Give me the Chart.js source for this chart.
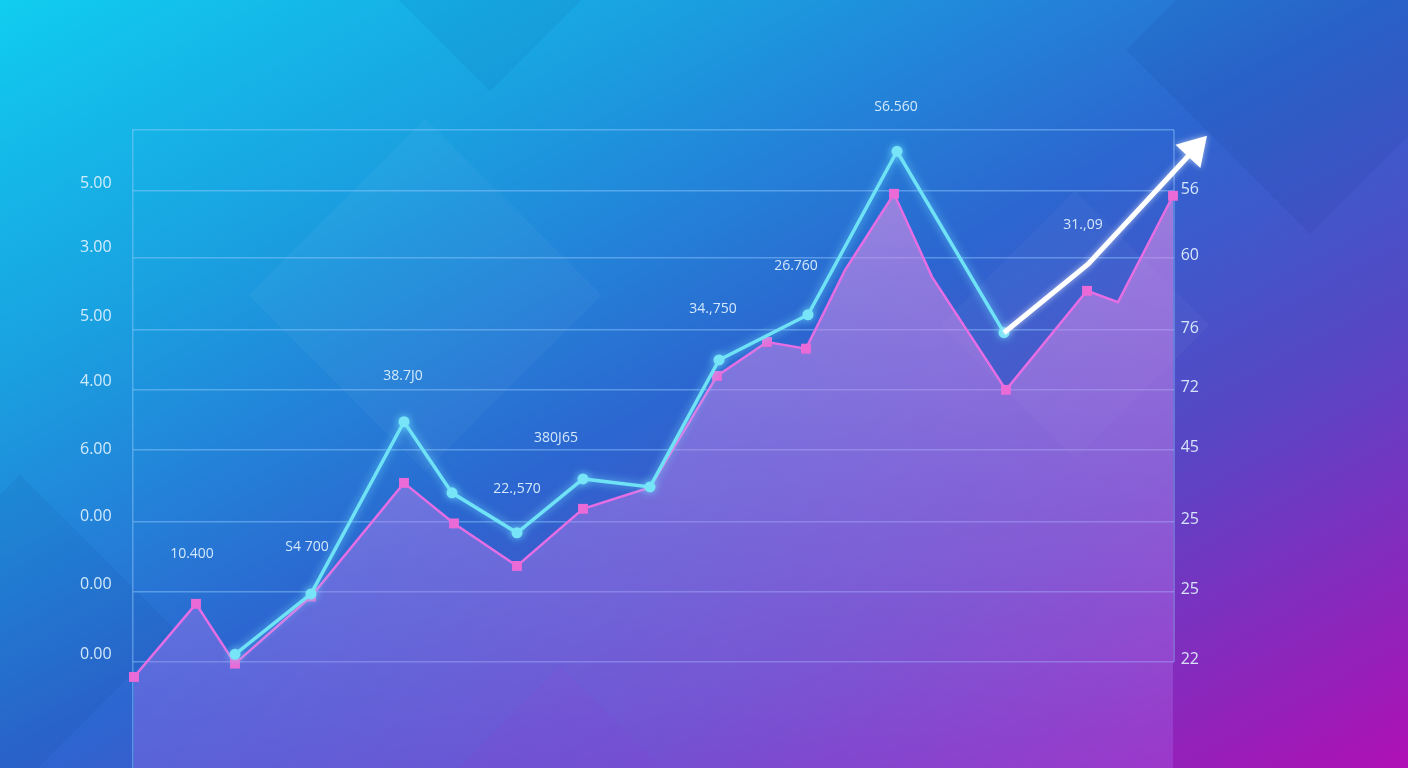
<!DOCTYPE html>
<html>
<head>
<meta charset="utf-8">
<script src="https://cdn.jsdelivr.net/npm/chart.js@4.4.1/dist/chart.umd.min.js"></script>
<style>
  html, body { margin: 0; padding: 0; width: 1408px; height: 768px; overflow: hidden; }
  body {
    position: relative;
    background: linear-gradient(to bottom right, #10cdef 0%, #1a9fe0 25%, #2c66d0 50%, #5a45c4 72%, #b010b5 100%);
  }
  .shape { position: absolute; transform: rotate(45deg); }
  #chartBox { position: absolute; left: 0; top: 0; width: 1408px; height: 775px; }
</style>
</head>
<body>
<div class="shape" style="left:300px;top:170px;width:250px;height:250px;background:rgba(255,255,255,0.035);"></div>
<div class="shape" style="left:390px;top:-150px;width:200px;height:200px;background:rgba(0,40,120,0.06);"></div>
<div class="shape" style="left:980px;top:230px;width:190px;height:190px;background:rgba(255,255,255,0.03);"></div>
<div class="shape" style="left:1180px;top:-80px;width:260px;height:260px;background:rgba(0,20,90,0.06);"></div>
<div class="shape" style="left:-90px;top:520px;width:220px;height:220px;background:rgba(0,30,110,0.06);"></div>
<div class="shape" style="left:480px;top:700px;width:160px;height:160px;background:rgba(120,40,200,0.12);"></div>
<div id="chartBox"><canvas id="chart" width="1408" height="775"></canvas></div>
<script>
// pink area series (x = position along the time axis, y = value)
const pinkX = [0.1, 6.3, 10.2, 17.8, 27.1, 32.1, 38.4, 45.0, 51.7, 58.4, 63.4, 67.3, 71.2, 76.1, 79.9, 87.3, 95.4, 98.5, 104.0];
const pinkY = [-0.23, 0.87, -0.03, 0.98, 2.69, 2.08, 1.44, 2.30, 2.62, 4.30, 4.81, 4.71, 5.89, 7.04, 5.79, 4.09, 5.58, 5.41, 7.01];
const pinkMarked = [1, 1, 1, 1, 1, 1, 1, 1, 0, 1, 1, 1, 0, 1, 0, 1, 1, 0, 1];

// cyan line series
const cyanX = [10.2, 17.8, 27.1, 31.9, 38.4, 45.0, 51.7, 58.6, 67.5, 76.4, 87.1];
const cyanY = [0.11, 1.02, 3.61, 2.54, 1.94, 2.75, 2.63, 4.54, 5.22, 7.68, 4.95];

// white trend arrow
const arrowX = [87.1, 95.5, 105.9];
const arrowY = [4.95, 5.98, 7.67];

// value labels
const valueTexts = ["10.400", "S4 700", "38.7J0", "22.,570", "380J65", "34.,750", "26.760", "S6.560", "31.,09"];
const valueX = [5.9, 17.4, 27.0, 38.4, 42.3, 58.0, 66.3, 76.3, 95.0];
const valueY = [1.62, 1.73, 4.30, 2.60, 3.37, 5.31, 5.95, 8.35, 6.57];

// axes (bottom to top)
const yMin = -1.6, yMax = 8;
const leftTickVals = [0.105, 1.16, 2.18, 3.19, 4.21, 5.20, 6.23, 7.20];
const leftTickLabels = ["0.00", "0.00", "0.00", "6.00", "4.00", "5.00", "3.00", "5.00"];
const gridVals = [0, 1.05, 2.11, 3.19, 4.09, 4.99, 6.08, 7.08, 8];
const rightTickLabels = ["22", "25", "25", "45", "72", "76", "60", "56", ""];

const gridColor = "rgba(150,205,255,0.45)";
const tickColor = "rgba(225,242,255,0.92)";
const fontFamily = "'Open Sans', 'DejaVu Sans', sans-serif";

function pts(xs, ys) {
    return xs.map((x, i) => ({ x: x, y: ys[i] }));
}

// first tick is an empty one at the bottom so the axis adds little bottom padding
function tickFont(ctx) {
    return ctx.index === 0 ? { family: fontFamily, size: 1 } : { family: fontFamily, size: 16 };
}

const overlay = {
    id: "overlay",
    beforeDatasetsDraw(chart) {
        const { ctx, chartArea, scales } = chart;
        ctx.save();
        ctx.strokeStyle = gridColor;
        ctx.lineWidth = 1.5;
        ctx.beginPath();
        ctx.moveTo(chartArea.right, scales.y.getPixelForValue(yMax));
        ctx.lineTo(chartArea.right, scales.y.getPixelForValue(0));
        ctx.stroke();
        ctx.restore();
    },
    beforeDatasetDraw(chart, args) {
        const ctx = chart.ctx;
        ctx.save();
        if (args.index === 1) {
            ctx.shadowColor = "rgba(120,235,255,0.7)";
            ctx.shadowBlur = 8;
        } else if (args.index === 2) {
            ctx.shadowColor = "rgba(255,255,255,0.6)";
            ctx.shadowBlur = 6;
        }
    },
    afterDatasetDraw(chart) {
        chart.ctx.restore();
    },
    afterDatasetsDraw(chart) {
        const { ctx, scales } = chart;
        // arrow head
        const data = chart.getDatasetMeta(2).data;
        const a = data[data.length - 2], b = data[data.length - 1];
        const dx = b.x - a.x, dy = b.y - a.y, len = Math.hypot(dx, dy);
        const ux = dx / len, uy = dy / len, px = -uy, py = ux;
        const tipX = b.x + ux * 22, tipY = b.y + uy * 22;
        const bx = b.x - ux * 6, by = b.y - uy * 6;
        ctx.save();
        ctx.fillStyle = "#ffffff";
        ctx.shadowColor = "rgba(255,255,255,0.6)";
        ctx.shadowBlur = 6;
        ctx.beginPath();
        ctx.moveTo(tipX, tipY);
        ctx.lineTo(bx + px * 17, by + py * 17);
        ctx.lineTo(bx - px * 17, by - py * 17);
        ctx.closePath();
        ctx.fill();
        ctx.restore();

        // value labels
        ctx.save();
        ctx.fillStyle = tickColor;
        ctx.font = "14px " + fontFamily;
        ctx.textAlign = "center";
        ctx.textBaseline = "middle";
        valueTexts.forEach((t, i) => {
            ctx.fillText(t, scales.x.getPixelForValue(valueX[i]), scales.y.getPixelForValue(valueY[i]));
        });
        ctx.restore();
    }
};

const ctx = document.getElementById("chart").getContext("2d");
new Chart(ctx, {
    type: "line",
    data: {
        datasets: [
            {
                data: pts(pinkX, pinkY),
                order: 3,
                borderColor: "rgb(230,110,228)",
                borderWidth: 2.5,
                tension: 0,
                fill: "start",
                clip: false,
                backgroundColor: function (c) {
                    const area = c.chart.chartArea;
                    if (!area) return "rgba(200,140,230,0.45)";
                    const g = c.chart.ctx.createLinearGradient(0, area.top, 0, area.bottom);
                    g.addColorStop(0, "rgba(225,145,228,0.66)");
                    g.addColorStop(0.5, "rgba(198,130,235,0.47)");
                    g.addColorStop(1, "rgba(170,110,240,0.30)");
                    return g;
                },
                pointStyle: "rect",
                pointRadius: pinkMarked.map(m => (m ? 7 : 0)),
                pointBackgroundColor: "rgb(234,106,216)",
                pointBorderColor: "rgb(234,106,216)",
                pointBorderWidth: 0
            },
            {
                data: pts(cyanX, cyanY),
                order: 2,
                borderColor: "rgb(112,226,246)",
                borderWidth: 3.5,
                tension: 0,
                fill: false,
                clip: false,
                pointStyle: "circle",
                pointRadius: 5.5,
                pointBackgroundColor: "rgb(120,228,248)",
                pointBorderColor: "rgb(120,228,248)",
                pointBorderWidth: 0
            },
            {
                data: pts(arrowX, arrowY),
                order: 1,
                borderColor: "#ffffff",
                borderWidth: 5,
                borderCapStyle: "butt",
                tension: 0,
                fill: false,
                clip: false,
                pointRadius: 0
            }
        ]
    },
    options: {
        responsive: false,
        animation: false,
        devicePixelRatio: 1,
        layout: { padding: { top: 130, left: 80, right: 209, bottom: 0 } },
        plugins: { legend: { display: false }, tooltip: { enabled: false } },
        events: [],
        scales: {
            x: { type: "linear", display: false, min: 0, max: 104.1 },
            y: {
                position: "left",
                min: yMin,
                max: yMax,
                afterBuildTicks: s => { s.ticks = [yMin].concat(leftTickVals).map(v => ({ value: v })); },
                afterFit: s => { s.width = 53; },
                grid: { display: false, drawTicks: false },
                border: { display: true, color: gridColor, width: 1.5 },
                ticks: {
                    autoSkip: false,
                    padding: 0,
                    crossAlign: "far",
                    color: tickColor,
                    font: tickFont,
                    callback: (v, i) => (i === 0 ? "" : leftTickLabels[i - 1])
                }
            },
            y2: {
                position: "right",
                min: yMin,
                max: yMax,
                afterBuildTicks: s => { s.ticks = [yMin].concat(gridVals).map(v => ({ value: v })); },
                afterFit: s => { s.width = 25; },
                grid: {
                    color: c => (c.index === 0 ? "rgba(0,0,0,0)" : gridColor),
                    lineWidth: 1.5,
                    drawTicks: false
                },
                border: { display: false },
                ticks: {
                    autoSkip: false,
                    padding: 0,
                    crossAlign: "far",
                    labelOffset: -2,
                    color: tickColor,
                    font: tickFont,
                    callback: (v, i) => (i === 0 ? "" : rightTickLabels[i - 1])
                }
            }
        }
    },
    plugins: [overlay]
});
</script>
</body>
</html>
